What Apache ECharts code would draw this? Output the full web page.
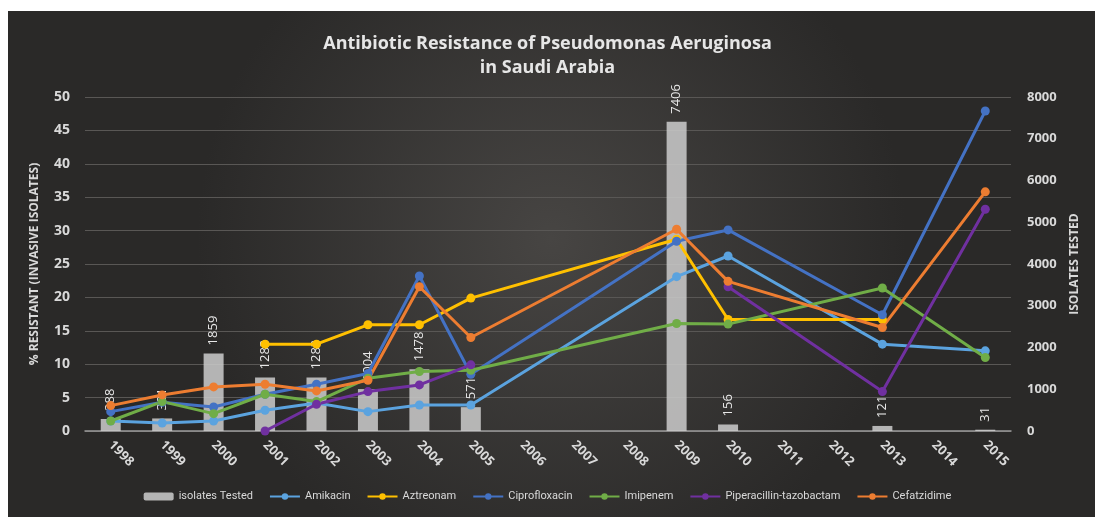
<!DOCTYPE html>
<html>
<head>
<meta charset="utf-8">
<title>Antibiotic Resistance of Pseudomonas Aeruginosa</title>
<script src="https://cdn.jsdelivr.net/npm/echarts@6/dist/echarts.min.js"></script>
<style>
  html, body { margin: 0; padding: 0; background: #fff; }
  #main { width: 1095px; height: 517px; }
</style>
</head>
<body>
<div id="main"></div>
<script>
var years = ['1998','1999','2000','2001','2002','2003','2004','2005','2006','2007','2008','2009','2010','2011','2012','2013','2014','2015'];
var isolates = [288, 301, 1859, 1283, 1283, 1004, 1478, 571, null, null, null, 7406, 156, null, null, 121, null, 31];
var amikacin = [1.5, 1.2, 1.5, 3.1, 4.2, 2.9, 3.9, 3.9, null, null, null, 23.1, 26.2, null, null, 13.0, null, 12.0];
var aztreonam = [null, null, null, 13.0, 13.0, 15.9, 15.9, 19.9, null, null, null, 28.7, 16.7, null, null, 16.7, null, null];
var cipro = [2.9, 4.3, 3.6, 5.5, 7.0, 8.6, 23.2, 8.5, null, null, null, 28.4, 30.1, null, null, 17.4, null, 47.9];
var imipenem = [1.5, 4.4, 2.6, 5.5, 4.4, 7.9, 8.9, 9.1, null, null, null, 16.1, 16.0, null, null, 21.4, null, 11.0];
// piperacillin-tazobactam has a break between 2005 and 2010 in the source chart
var piptazoEarly = [null, null, null, 0, 4.0, 5.9, 6.9, 9.9, null, null, null, null, null, null, null, null, null, null];
var piptazoLate = [null, null, null, null, null, null, null, null, null, null, null, null, 21.6, null, null, 5.9, null, 33.2];
var cefatzidime = [3.8, 5.4, 6.6, 7.0, 6.0, 7.6, 21.6, 14.0, null, null, null, 30.2, 22.4, null, null, 15.5, null, 35.8];

var myChart = echarts.init(document.getElementById('main'));

function lineSeries(name, data, color) {
  return {
    name: name,
    type: 'line',
    yAxisIndex: 0,
    data: data,
    connectNulls: true,
    symbol: 'circle',
    symbolSize: 9,
    z: 3,
    lineStyle: { width: 3, color: color },
    itemStyle: { color: color }
  };
}

var textColor = '#d9d9d9';
var font = 'Open Sans';

var option = {
  animation: false,
  textStyle: { fontFamily: font },
  graphic: [{
    type: 'rect',
    z: -10,
    shape: { x: 8, y: 11, width: 1087, height: 506 },
    style: {
      fill: {
        type: 'radial', x: 0.5, y: 0.45, r: 0.7,
        colorStops: [
          { offset: 0, color: '#474543' },
          { offset: 1, color: '#2a2928' }
        ]
      }
    }
  }],
  title: {
    text: 'Antibiotic Resistance of Pseudomonas Aeruginosa\nin Saudi Arabia',
    left: 'center',
    top: 27,
    textStyle: { color: '#e6e6e6', fontSize: 18, fontWeight: 'bold', lineHeight: 24, fontFamily: font }
  },
  legend: {
    bottom: 10,
    left: 'center',
    itemGap: 16,
    itemWidth: 30,
    itemHeight: 8,
    textStyle: { color: textColor, fontSize: 11, fontFamily: 'Liberation Sans Narrow, Roboto' },
    data: ['isolates Tested', 'Amikacin', 'Aztreonam', 'Ciprofloxacin', 'Imipenem', 'Piperacillin-tazobactam', 'Cefatzidime']
  },
  grid: { left: 85, right: 84, top: 97, bottom: 86 },
  xAxis: {
    type: 'category',
    data: years,
    axisTick: { show: false },
    axisLine: { lineStyle: { color: '#9a9a9a', width: 1.5 } },
    axisLabel: { color: textColor, fontSize: 13, fontWeight: 'bold', rotate: -45, margin: 12, interval: 0 }
  },
  yAxis: [{
    type: 'value',
    min: 0, max: 50, interval: 5,
    name: '% RESISTANT (INVASIVE ISOLATES)',
    nameLocation: 'middle',
    nameRotate: 90,
    nameGap: 44,
    nameTextStyle: { color: textColor, fontSize: 12, fontWeight: 'bold' },
    axisLabel: { color: textColor, fontSize: 14, fontWeight: 'bold', margin: 15 },
    splitLine: { lineStyle: { color: '#595755', width: 1 } },
    axisLine: { show: false },
    axisTick: { show: false }
  }, {
    type: 'value',
    min: 0, max: 8000, interval: 1000,
    name: 'ISOLATES TESTED',
    nameLocation: 'middle',
    nameRotate: 90,
    nameGap: 58,
    nameTextStyle: { color: textColor, fontSize: 12, fontWeight: 'bold' },
    axisLabel: { color: textColor, fontSize: 13, fontWeight: 'bold', margin: 16, formatter: function (v) { return String(v); } },
    splitLine: { show: false },
    axisLine: { show: false },
    axisTick: { show: false }
  }],
  series: [
    {
      name: 'isolates Tested',
      type: 'bar',
      yAxisIndex: 1,
      data: isolates,
      barWidth: 20,
      z: 1,
      itemStyle: { color: 'rgba(205,205,205,0.85)' },
      label: {
        show: true,
        position: 'top',
        rotate: 90,
        align: 'left',
        verticalAlign: 'middle',
        distance: 8,
        color: '#e8e8e8',
        fontSize: 13
      }
    },
    lineSeries('Amikacin', amikacin, '#5ba3df'),
    lineSeries('Aztreonam', aztreonam, '#ffc000'),
    lineSeries('Ciprofloxacin', cipro, '#4472c4'),
    lineSeries('Imipenem', imipenem, '#70ad47'),
    lineSeries('Piperacillin-tazobactam', piptazoEarly, '#7030a0'),
    lineSeries('Piperacillin-tazobactam', piptazoLate, '#7030a0'),
    lineSeries('Cefatzidime', cefatzidime, '#ed7d31')
  ]
};
myChart.setOption(option);
</script>
</body>
</html>
